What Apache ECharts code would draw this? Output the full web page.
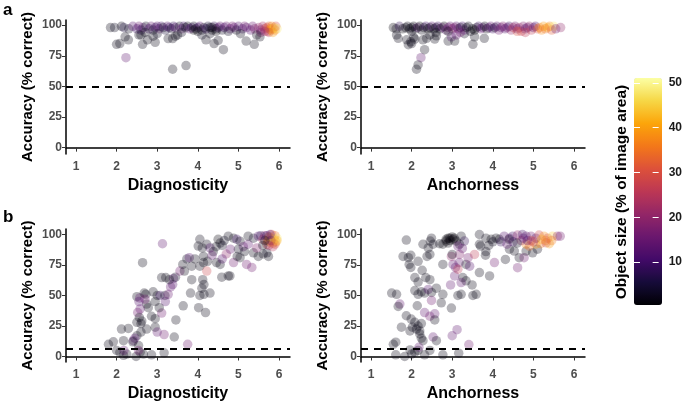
<!DOCTYPE html>
<html><head><meta charset="utf-8">
<script src="https://cdn.jsdelivr.net/npm/echarts@6/dist/echarts.min.js"></script>
<style>html,body{margin:0;padding:0;background:#fff}#c{width:685px;height:403px}</style>
</head><body><div id="c"></div>
<script>
// [x, accuracy, object size]
const diagA = [
[2.23,73.4,14],[2.0,84.3,2],[2.08,85,2],[2.29,88,2],[2.21,90.5,2],[2.64,84.3,2],[2.76,88,2],[2.95,86,2],[3.27,89,2],[3.38,89,2],[3.38,64,2],[3.71,67,2],[4.2,88,2],[4.4,85,2],[4.63,80,2],[5.19,87,2],[5.39,84.3,2],[4.5,87.5,2],[5.53,90.5,2],[3.45,91,2],[2.6,92,2],[2.9,91,2],
[1.85,98,2],[1.95,98,3],[2.12,99,2],[2.18,98,6],[2.3,97,3],[2.4,99,12],[2.5,97,10],[2.55,99,15],[2.6,96,8],[2.65,98,12],[2.72,99,3],[2.8,97,10],[2.85,99,14],[2.9,96,3],[2.95,98,8],[3.0,99,12],[3.05,97,14],[3.1,99,10],[3.15,98,3],[3.2,96,5],[3.25,99,12],[3.3,98,10],[3.35,97,3],[3.4,99,8],[3.45,98,12],[3.55,99,3],[3.6,97,14],[3.65,99,10],[3.7,98,3],[3.75,99,2],[3.8,97,12],[3.85,98,10],[3.9,99,3],[3.95,97,2],[4.0,98,8],[4.05,99,12],[4.1,96,3],[4.15,98,2],[4.2,97,10],[4.25,99,5],[4.3,98,3],[4.35,96,2],[4.4,99,8],[4.45,97,3],[4.5,98,12],[4.55,99,14],[4.6,96,3],[4.65,98,10],[4.7,99,15],[4.8,97,12],[4.85,99,16],[4.9,98,14],[4.95,96,3],[5.0,99,12],[5.1,97,10],[5.15,99,16],[5.2,98,14],[5.3,96,12],[5.35,99,15],[5.4,97,18],[5.5,98,20],[5.55,96,14],[5.6,99,22],[5.65,97,25],[5.7,98,28],[5.72,95,30],[5.75,99,32],[5.78,97,35],[5.8,96,40],[5.82,99,38],[5.85,97,42],[5.88,98,45],[5.9,96,36],[5.92,99,30],[5.95,97,48],[5.75,94,26],[5.85,94,40],[5.65,95,22],[5.55,94,18],
[2.55,92,2],[2.7,94,2],[3.0,93,3],[3.5,92,2],[4.1,92,3],[4.3,93,2],[4.75,95,3],[5.05,93,2],[5.45,92,2],[3.6,94,3],[4.0,95,1],[4.45,95,1],[3.9,96,1],[4.35,98,1]
];
const anchA = [
[2.23,73.4,14],[2.32,80,2],[2.16,67.5,2],[2.12,64,2],[1.67,89.2,2],[1.63,92,2],[1.88,88,2],[1.92,84,2],[1.98,86.4,2],[2.08,88.6,2],[2.28,88,2],[2.37,89.2,2],[2.57,88.6,2],[2.61,91.3,2],[2.9,87,2],[2.98,90.5,12],[3.06,87,2],[3.51,84.3,2],[3.79,89.2,2],[3.55,90.5,2],[2.0,85,2],[2.05,90,2],[2.45,92,2],[3.1,92,14],[3.3,93,3],
[1.55,98,1],[1.62,97,2],[1.7,99,8],[1.78,97,1],[1.85,98,2],[1.9,99,2],[1.95,97,1],[2.0,98,3],[2.05,99,1],[2.1,97,2],[2.15,98,12],[2.2,99,1],[2.25,96,2],[2.3,98,2],[2.35,99,10],[2.4,97,1],[2.45,98,2],[2.5,99,12],[2.55,97,3],[2.6,98,1],[2.65,99,10],[2.7,97,2],[2.75,98,14],[2.8,99,1],[2.85,96,12],[2.9,98,16],[2.95,99,14],[3.0,97,16],[3.05,98,20],[3.1,99,12],[3.15,97,14],[3.2,98,2],[3.25,99,10],[3.3,96,12],[3.35,98,1],[3.4,99,3],[3.5,97,2],[3.6,98,1],[3.65,99,10],[3.7,97,14],[3.75,98,12],[3.8,99,2],[3.85,97,1],[3.9,98,12],[3.95,99,14],[4.0,97,10],[4.05,98,3],[4.1,99,12],[4.15,96,16],[4.2,98,14],[4.25,99,18],[4.3,97,12],[4.35,98,16],[4.4,99,10],[4.45,96,20],[4.5,98,24],[4.55,99,16],[4.6,97,14],[4.65,98,22],[4.7,95,28],[4.75,99,18],[4.8,97,14],[4.85,98,12],[4.9,99,20],[4.95,96,26],[5.0,98,14],[5.05,99,12],[5.1,97,30],[5.15,98,36],[5.2,96,38],[5.25,99,40],[5.3,97,34],[5.35,98,42],[5.4,99,38],[5.45,96,32],[5.5,99,48],[5.55,97,16],[5.67,98,20],[3.45,95,2],[3.55,96,1],[2.0,95,2],[2.6,94,2],[4.6,95,30],[4.8,94,26],[3.2,94,16],[2.9,95,1]
];
const diagB = [
[3.13,92.4,14],[2.64,76.9,2],[3.11,64.7,2],[3.21,64.7,2],[3.40,64,12],[2.5,49,2],[2.57,48,14],[2.68,52,2],[2.72,51,2],[2.9,53,2],[3.0,50,2],[3.07,50,10],[3.19,50,3],[3.27,51,15],[3.33,57,14],[3.38,59,12],[3.45,65,3],[3.56,70,16],[3.63,75.5,2],[3.73,80,3],[3.79,81,12],[3.67,70,2],[3.85,74,2],[3.93,80,2],[4.05,74,2],[4.14,77,2],[4.22,70,28],[4.1,56,2],[4.05,50,2],[4.15,51,2],[4.3,52,2],[4.02,40,2],[4.19,36,2],[3.64,41.5,2],[3.82,52,2],[3.85,63,2],[4.12,63,2],[4.15,59,2],[3.46,30,2],[3.42,16,2],[3.75,10,16],[2.74,43,2],[2.78,40,2],[2.58,39,14],[2.52,36,16],[2.56,32,2],[2.62,29,2],[2.5,28,2],[2.74,22.5,2],[2.86,33,2],[2.95,31,2],[3.11,35.6,16],[3.17,18,16],[2.95,24,2],[3.0,20,14],[2.12,22.5,2],[2.29,23,2],[2.17,13,2],[2.41,13,12],[2.5,17,2],[2.54,9,2],[1.8,10,2],[1.92,12,2],[2.0,5,2],[2.08,3.5,2],[2.17,1,2],[2.25,2,2],[2.18,5,14],[2.48,0,2],[2.58,3.5,2],[2.66,2,2],[2.86,1.4,2],[3.17,3,2],[2.54,5,16],[2.6,20,2],[2.45,15,12],[3.3,63,2],[3.2,45,12],[2.95,45,2],[3.05,40,2],[2.6,27,2],[2.4,12,2],[2.7,47,16],[2.55,45,12],
[4.05,96,2],[4.22,92,2],[4.3,89,12],[4.55,93,2],[4.45,90,2],[4.38,86,2],[4.14,82,2],[4.24,78,2],[4.46,77,2],[4.55,75.5,2],[4.59,65,2],[4.75,66,2],[4.79,66,2],[4.88,77,16],[5.2,75.5,16],[5.33,73,16],[4.75,98.6,2],[4.88,97,2],[4.96,96,10],[5.04,94.5,2],[5.12,90,14],[5.24,92,14],[4.97,82,2],[5.04,81,2],[5.24,98.6,2],[5.37,97,3],[5.49,98.6,12],[5.37,85,2],[5.49,82,2],[5.61,84,2],[5.7,85,3],[5.74,82,2],[5.45,89,18],[4.01,90.5,2],[4.11,89,2],[4.6,91,3],[4.65,95,3],[4.5,96,1],[4.7,84,20],[4.8,88,14],[5.0,88,3],[5.15,86,2],[4.35,83,14],[4.6,80,12],
[5.6,96,25],[5.65,99,20],[5.7,92,30],[5.72,95,35],[5.75,98,40],[5.78,94,42],[5.8,97,45],[5.82,100,30],[5.85,93,38],[5.88,96,46],[5.9,99,35],[5.92,94,40],[5.95,97,48],[5.75,91,22],[5.85,90,25],[5.8,95,15],[5.7,99,10],[5.65,95,2],[5.6,91,2],[5.55,99,8],[5.9,92,30],[5.78,100,12],[5.95,95,42]
];
const anchB = [
[1.87,95.4,2],[1.51,52,2],[1.63,51,2],[1.71,43,14],[1.67,41,2],[1.79,82,2],[1.92,81,2],[1.98,83,2],[1.94,75.5,2],[1.98,73,2],[2.16,78,2],[2.26,70.6,2],[2.08,64.7,2],[2.16,61,2],[2.28,92,2],[2.41,89,2],[2.46,94.6,2],[2.53,92,2],[2.45,83.7,2],[2.38,82,2],[2.49,97,2],[2.35,64.7,2],[2.45,63,2],[2.08,54,2],[2.16,51,2],[2.24,53,2],[2.32,52,2],[2.41,55,12],[2.49,52.5,2],[2.61,56,2],[2.49,46,16],[2.14,41.6,2],[1.87,33.4,2],[1.99,30.7,2],[2.08,28,2],[2.16,25,2],[2.24,27,2],[2.12,22.5,2],[2.2,21,2],[2.32,36,14],[2.45,33,16],[2.57,35,14],[2.57,30,2],[1.75,24,2],[1.96,21,2],[2.02,24,2],[2.2,18.5,2],[2.24,15,2],[2.28,13,2],[2.53,16,14],[2.61,13,2],[1.55,10,2],[1.61,11.7,2],[1.96,5.4,2],[2.08,3.5,2],[2.16,5,2],[2.18,7.6,14],[1.61,1.4,2],[1.83,0,2],[2.0,2,2],[2.32,1.4,2],[2.45,5,2],[2.77,1.4,2],[3.16,2.7,2],[3.41,9.8,16],[3.0,17,14],[3.12,22,14],[2.98,39.7,2],[2.96,58.7,14],[2.77,51,2],[2.73,44,2],[3.14,50,2],[3.22,51,2],[3.51,50,2],[3.59,51,2],[3.49,58.7,2],[3.26,64.7,2],[3.34,62,2],[3.22,60.6,14],[3.06,66,14],[3.02,75.5,14],[3.08,73,14],[3.17,77,14],[3.14,71.5,26],[3.34,75.5,2],[3.43,74,12],[3.39,81,16],[3.18,83.7,18],[2.98,82,20],[3.0,83.7,2],[2.77,75.5,2],[3.67,68.8,2],[3.92,66,2],[4.04,77,16],[3.55,83.7,26],[3.83,86,2],[3.82,83,2],[3.67,92,2],[3.7,90.5,2],
[2.69,92.4,2],[2.77,92,1],[2.85,94.6,1],[2.94,97,1],[3.02,96,1],[3.1,94.6,1],[2.9,93,1],[2.95,95,1],[2.85,96,1],[2.9,97,1],[3.0,98,1],[3.05,97,1],[3.22,98.6,2],[3.3,94.6,8],[3.18,92,2],[3.14,90.5,14],[3.25,88.6,14],[3.67,100,2],[3.83,97,2],[3.96,96,1],[4.08,97,2],[4.16,96,1],[4.0,94,3],[3.9,91,2],[4.31,79.6,2],[4.61,72.8,16],[4.65,81,2],[4.77,81,16],[4.41,88,2],[4.53,86.4,2],[4.82,86.4,2],[4.98,85,2],[5.1,88,2],[4.82,92,38],[4.9,90.5,34],[5.06,92,40],[5.18,92.4,36],[5.31,93.2,28],[5.39,92.4,40],
[4.28,98.6,12],[4.41,97,14],[4.49,98.6,10],[4.61,99.5,20],[4.73,100,10],[4.82,98.6,14],[4.94,98.6,16],[5.06,97,12],[5.14,99.5,28],[5.26,98.6,38],[5.35,97,30],[5.47,98.6,45],[5.59,98.6,20],[5.66,98.6,16],[4.2,94,8],[4.5,94,10],[4.7,95,20],[4.95,95,30],[5.2,96,42],[5.45,95,36],[4.35,92,14],[4.6,93,2],[4.85,95,12],[5.0,94,25],[4.4,96,2],[4.75,97,12],[5.3,95,34]
];
const yTicks = [0, 25, 50, 75, 100];
const xTicks = [1, 2, 3, 4, 5, 6];
const sizeTicks = [10, 20, 30, 40, 50];
const chanceTop = 50;
const chanceBottom = 6.25;
const sizeMin = 0.4, sizeMax = 51.1;
const inferno = ['#000004','#160b39','#420a68','#6a176e','#932667','#bc3754','#dd513a','#f37819','#fca50a','#f6d746','#fcffa4'];

const FONT = '"Liberation Sans", Arial, sans-serif';
const grids = [
  {left: 66, top: 20, width: 224, height: 134},
  {left: 361, top: 20, width: 224, height: 134},
  {left: 66, top: 229, width: 224, height: 134},
  {left: 361, top: 229, width: 224, height: 134},
  {left: 634, top: 78, width: 28, height: 227}
];
const xNames = ['Diagnosticity','Anchorness','Diagnosticity','Anchorness'];
const yRanges = [[-5.2,104.2],[-5.2,104.2],[-4.5,104.5],[-4.5,104.5]];
const xAxes = [], yAxes = [], series = [];
const datasets = [diagA, anchA, diagB, anchB];
for (let i = 0; i < 4; i++) {
  xAxes.push({
    gridIndex: i, type: 'value', min: 0.754, max: 6.27,
    name: xNames[i], nameLocation: 'middle', nameGap: 24,
    nameTextStyle: {fontFamily: FONT, fontWeight: 'bold', fontSize: 16, color: '#000'},
    axisLine: {lineStyle: {color: '#000', width: 1.5}},
    axisTick: {length: 4, lineStyle: {color: '#333', width: 1}, customValues: xTicks},
    axisLabel: {fontFamily: FONT, fontWeight: 'bold', fontSize: 12, color: '#4d4d4d', margin: 7, customValues: xTicks},
    splitLine: {show: false}
  });
  yAxes.push({
    gridIndex: i, type: 'value', min: yRanges[i][0], max: yRanges[i][1],
    name: 'Accuracy (% correct)', nameLocation: 'middle', nameGap: 31,
    nameTextStyle: {fontFamily: FONT, fontWeight: 'bold', fontSize: 15, color: '#000'},
    axisLine: {show: true, lineStyle: {color: '#000', width: 1.5}},
    axisTick: {show: true, length: 4, lineStyle: {color: '#333', width: 1}, customValues: yTicks},
    axisLabel: {fontFamily: FONT, fontWeight: 'bold', fontSize: 12, color: '#4d4d4d', margin: 4, customValues: yTicks},
    splitLine: {show: false}
  });
  series.push({
    type: 'scatter', xAxisIndex: i, yAxisIndex: i,
    data: datasets[i], symbolSize: 9.5,
    itemStyle: {opacity: 0.3},
    markLine: {
      silent: true, symbol: 'none', label: {show: false}, animation: false,
      lineStyle: {color: '#000', type: [7, 6], width: 1.8},
      data: [{yAxis: i < 2 ? chanceTop : chanceBottom}]
    }
  });
}
// colour bar axes (tick labels & white tick marks)
xAxes.push({gridIndex: 4, type: 'value', show: false});
yAxes.push({
  gridIndex: 4, type: 'value', min: sizeMin, max: sizeMax, position: 'left', z: 10,
  axisLine: {show: false}, splitLine: {show: false}, axisLabel: {show: false},
  axisTick: {show: true, inside: true, length: 6, lineStyle: {color: '#fff', width: 1}, customValues: sizeTicks}
});
yAxes.push({
  gridIndex: 4, type: 'value', min: sizeMin, max: sizeMax, position: 'right', z: 10,
  axisLine: {show: false}, splitLine: {show: false},
  axisLabel: {fontFamily: FONT, fontWeight: 'bold', fontSize: 12, color: '#1a1a1a', margin: 10, customValues: sizeTicks},
  axisTick: {show: true, inside: true, length: 6, lineStyle: {color: '#fff', width: 1}, customValues: sizeTicks}
});

const chart = echarts.init(document.getElementById('c'), null, {renderer: 'canvas'});
chart.setOption({
  animation: false,
  backgroundColor: '#fff',
  grid: grids,
  xAxis: xAxes,
  yAxis: yAxes,
  visualMap: {
    type: 'continuous', min: sizeMin, max: sizeMax, dimension: 2, seriesIndex: [0,1,2,3],
    left: 634, top: 78, itemWidth: 28, itemHeight: 227, padding: 0,
    calculable: false, hoverLink: false, z: 2,
    inRange: {color: inferno}
  },
  series: series,
  graphic: [
    {type: 'text', left: 3, top: 2, style: {text: 'a', font: 'bold 17px ' + FONT, fill: '#000'}},
    {type: 'text', left: 3, top: 209, style: {text: 'b', font: 'bold 17px ' + FONT, fill: '#000'}},
    {type: 'text', x: 622, y: 192, rotation: Math.PI / 2,
     style: {text: 'Object size (% of image area)', font: 'bold 15.5px ' + FONT, fill: '#000', align: 'center', verticalAlign: 'middle'}}
  ]
});
</script></body></html>
